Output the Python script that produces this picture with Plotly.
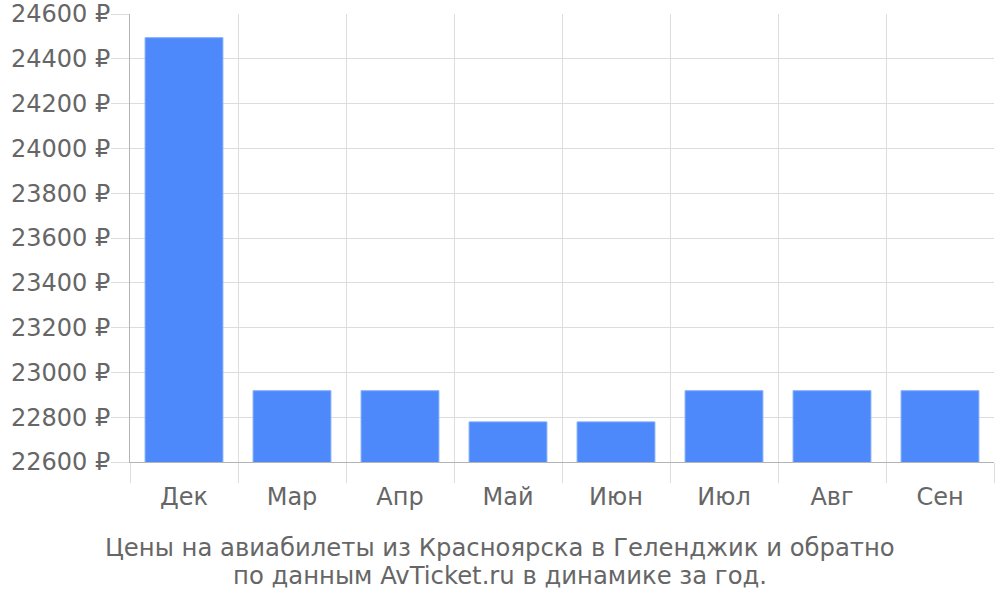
"""Цены на авиабилеты Красноярск — Геленджик, столбчатая диаграмма."""

import plotly.graph_objects as go

months = ["Дек", "Мар", "Апр", "Май", "Июн", "Июл", "Авг", "Сен"]
prices = [24494, 22918, 22918, 22779, 22779, 22918, 22918, 22918]
y_ticks = list(range(22600, 24601, 200))
y_labels = [f"{v} ₽" for v in y_ticks]
title_lines = [
    "Цены на авиабилеты из Красноярска в Геленджик и обратно",
    "по данным AvTicket.ru в динамике за год.",
]

GRID = "#dddddd"
AXIS = "#b4b4b4"
TEXT = "#666666"

positions = list(range(len(months)))

fig = go.Figure(
    go.Bar(
        x=positions,
        y=prices,
        width=0.72,
        marker=dict(color="#4d89fa", line=dict(color="#7aa8fb", width=1)),
        hoverinfo="y",
    )
)

fig.update_layout(
    width=1000,
    height=600,
    margin=dict(l=130, r=6, t=14, b=138, autoexpand=False),
    paper_bgcolor="white",
    plot_bgcolor="white",
    font=dict(family="DejaVu Sans", size=24, color=TEXT),
    showlegend=False,
)

# подпись снизу — две строки отдельными аннотациями (плотнее межстрочный)
for line, y in zip(title_lines, [-0.191, -0.253]):
    fig.add_annotation(
        text=line,
        xref="paper",
        yref="paper",
        x=0.428,
        y=y,
        xanchor="center",
        yanchor="middle",
        showarrow=False,
        font=dict(size=24.3, color=TEXT),
    )

fig.update_xaxes(
    range=[-0.5, len(months) - 0.5],
    tickvals=positions,
    ticktext=months,
    ticks="",
    ticklabelstandoff=13,
    showgrid=False,
    showline=True,
    linecolor=AXIS,
    linewidth=1,
    zeroline=False,
    automargin=False,
    minor=dict(
        tickvals=[p - 0.5 for p in positions] + [len(months) - 0.5],
        showgrid=True,
        gridcolor=GRID,
        gridwidth=1,
        ticks="outside",
        ticklen=20,
        tickcolor=GRID,
    ),
    tickfont=dict(size=24, color=TEXT),
    fixedrange=True,
)

fig.update_yaxes(
    range=[22600, 24600],
    tickvals=y_ticks,
    ticktext=y_labels,
    ticks="outside",
    ticklen=18,
    tickcolor=GRID,
    ticklabelstandoff=-4,
    ticklabeloverflow="allow",
    showgrid=True,
    gridcolor=GRID,
    gridwidth=1,
    showline=True,
    linecolor=AXIS,
    linewidth=1,
    zeroline=False,
    automargin=False,
    tickfont=dict(size=24, color=TEXT),
    fixedrange=True,
)

# убираем стандартный отступ body, чтобы верхняя подпись не обрезалась
fig.write_html(
    "out.html",
    config={"displayModeBar": False},
    post_script="document.body.style.margin = '0';",
)
